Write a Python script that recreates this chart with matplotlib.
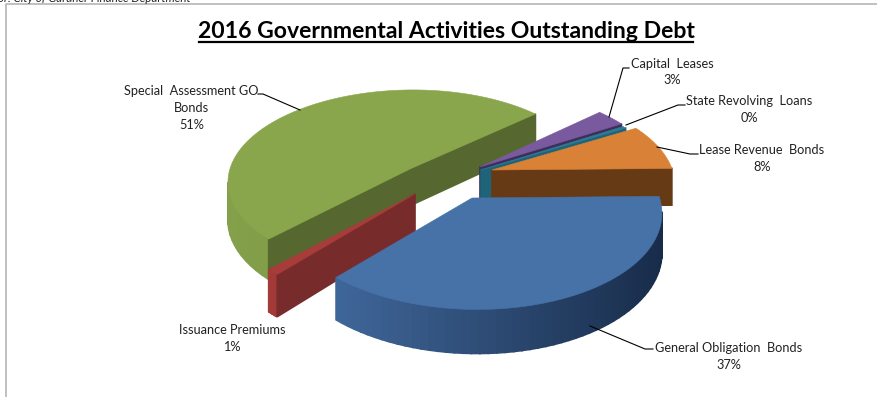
import numpy as np
import matplotlib
matplotlib.use('Agg')
import matplotlib.pyplot as plt
from matplotlib.patches import Polygon
from matplotlib.colors import to_rgb

plt.rcParams['font.family'] = ['Lato', 'DejaVu Sans']

names = ['General Obligation  Bonds', 'Lease Revenue  Bonds', 'State Revolving  Loans',
         'Capital  Leases', 'Special  Assessment GO\nBonds', 'Issuance Premiums']
values = [37, 8, 0.4, 3, 51, 1]
shown = ['37%', '8%', '0%', '3%', '51%', '1%']

top_colors = ['#4672a8', '#d98136', '#2b7c94', '#7a5a9e', '#8aa64c', '#a83c3a']
cut_colors = ['#2b4a75', '#673a16', '#1f6378', '#3f2d5c', '#56682f', '#772c2b']
rim_left = ['#3f6699', '#6b3e18', '#1f6378', '#4d3670', '#84a04a', '#a23a38']
rim_right = ['#182c4a', '#5a3312', '#1f6378', '#4d3670', '#6f8a3a', '#943432']

# slice tips in pixels
apex = [(472, 198), (492, 170), (481, 170), (480, 167), (410, 169), (415, 194)]
start_angle = 1.0

# perspective of the pie plane
cx, cy = 437, 184
A, B, k = 184, 93, 0.13
depth = 37.5


def project(X, Y):
    w = 1 + k * Y
    return cx + A * X / w, cy - B * Y / w, w


def unproject(x, y):
    v = (cy - y) / B
    Y = v / (1 - k * v)
    X = (x - cx) * (1 + k * Y) / A
    return X, Y


def mix(c1, c2, f):
    a, b = np.array(to_rgb(c1)), np.array(to_rgb(c2))
    return tuple(a + (b - a) * f)


def draw_slice(ax, i, t0, t1, z):
    X0, Y0 = unproject(*apex[i])
    t = np.radians(np.linspace(t0, t1, 60))
    wx = np.r_[X0, X0 + np.cos(t)]
    wy = np.r_[Y0, Y0 + np.sin(t)]
    x, y, w = project(wx, wy)
    y2 = y + depth / w

    n = len(x)
    area = np.sum(x * np.roll(y, -1) - np.roll(x, -1) * y)
    for j in range(n):
        m = (j + 1) % n
        dx, dy = x[m] - x[j], y[m] - y[j]
        # outward normal pointing down the screen means a visible wall
        ny = -dx if area > 0 else dx
        if ny <= 0:
            continue
        if j == 0 or j == n - 1:
            c = cut_colors[i]
        else:
            c = mix(rim_left[i], rim_right[i], (x[j] - x.min()) / (np.ptp(x) + 1e-6))
        ax.add_patch(Polygon([(x[j], y[j]), (x[m], y[m]), (x[m], y2[m]), (x[j], y2[j])],
                             fc=c, ec=c, lw=1.2, zorder=z))
    ax.add_patch(Polygon(np.c_[x, y], fc=top_colors[i], ec=top_colors[i], lw=0.4, zorder=z + 0.5))


fig = plt.figure(figsize=(8.77, 3.97), dpi=100)
ax = fig.add_axes([0, 0, 1, 1])
ax.set_xlim(0, 877)
ax.set_ylim(397, 0)
ax.axis('off')

# chart frame
ax.plot([6, 6, 877], [397, 4, 4], color='#b5b5b5', lw=1.2, zorder=1)
ax.text(-2, -2, 'or. City of Gardner Finance Department', fontsize=8.4, style='italic',
        va='center', ha='left', color='#222222', zorder=5)

ax.text(446, 38, '2016 Governmental Activities Outstanding Debt', fontsize=16.55, fontweight='bold',
        ha='center', va='baseline', color='black', zorder=5)
ax.plot([199, 693], [41.5, 41.5], color='black', lw=1.6, zorder=5)

# blue runs clockwise from the start angle, the others counter-clockwise
spans = [(start_angle - values[0] * 3.6, start_angle)]
a = start_angle
for v in values[1:]:
    spans.append((a, a + v * 3.6))
    a += v * 3.6

# back to front
for z, i in enumerate([4, 3, 2, 1, 5, 0]):
    draw_slice(ax, i, spans[i][0], spans[i][1], 2 + z)

label_pos = [(729, 356.5), (762, 158.5), (749, 109.5), (672, 72), (191.5, 108), (232, 338.5)]
leaders = [[(590, 326), (645, 349), (653, 349)],
           [(657, 147), (690, 154), (698, 154)],
           [(626, 125), (678, 105), (685, 105)],
           [(609, 117), (623, 68), (629, 68)],
           [(300, 110), (263, 94), (258, 94)],
           None]
for i in range(6):
    ax.text(label_pos[i][0], label_pos[i][1], names[i] + '\n' + shown[i], fontsize=9.2,
            ha='center', va='center', color='#222222', linespacing=1.48, zorder=20)
    if leaders[i]:
        ax.plot(*zip(*leaders[i]), color='black', lw=0.8, zorder=19)

fig.savefig('out.png', dpi=100)
